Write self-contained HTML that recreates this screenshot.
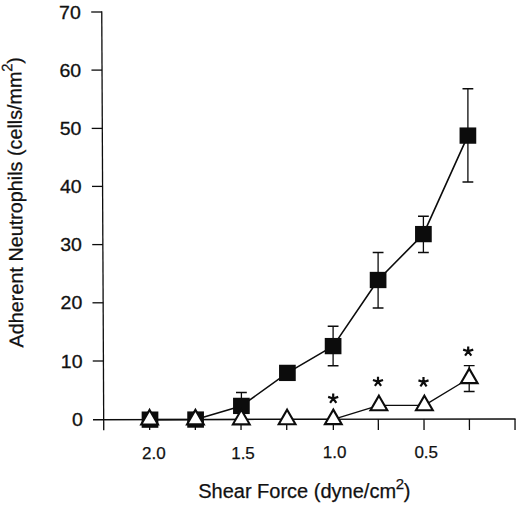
<!DOCTYPE html>
<html><head><meta charset="utf-8"><title>Adherent Neutrophils vs Shear Force</title>
<style>
html,body{margin:0;padding:0;background:#fff;}
body{width:520px;height:508px;overflow:hidden;}
svg{display:block;}
text{font-family:"Liberation Sans",sans-serif;fill:#111;}
</style></head><body>
<svg width="520" height="508" viewBox="0 0 520 508">
<rect width="520" height="508" fill="#fff"/>
<g stroke="#0c0c0c" stroke-width="1.3" fill="none" stroke-linecap="butt">
<line x1="101.75" y1="11.3" x2="103.75" y2="430.2"/>
<line x1="93" y1="419.75" x2="515.6" y2="419.00"/>
<line x1="91.20" y1="12.00" x2="101.75" y2="12.00"/>
<line x1="91.46" y1="70.10" x2="102.03" y2="70.10"/>
<line x1="91.71" y1="128.40" x2="102.31" y2="128.40"/>
<line x1="91.97" y1="186.40" x2="102.58" y2="186.40"/>
<line x1="92.23" y1="244.60" x2="102.86" y2="244.60"/>
<line x1="92.48" y1="302.80" x2="103.14" y2="302.80"/>
<line x1="92.74" y1="361.00" x2="103.42" y2="361.00"/>
<line x1="149.60" y1="419.65" x2="149.65" y2="430.0"/>
<line x1="195.30" y1="419.57" x2="195.35" y2="430.0"/>
<line x1="241.00" y1="419.49" x2="241.05" y2="430.0"/>
<line x1="286.70" y1="419.41" x2="286.75" y2="430.0"/>
<line x1="333.30" y1="419.32" x2="333.35" y2="430.0"/>
<line x1="378.30" y1="419.24" x2="378.35" y2="430.0"/>
<line x1="424.00" y1="419.16" x2="424.05" y2="430.0"/>
<line x1="469.40" y1="419.08" x2="469.45" y2="430.0"/>
<line x1="515.00" y1="419.00" x2="515.05" y2="430.0"/>
</g>
<g font-size="18.5" text-anchor="end" stroke="#111" stroke-width="0.3">
<text transform="translate(80.80,18.60) scale(1.055,1)">70</text>
<text transform="translate(81.08,76.70) scale(1.055,1)">60</text>
<text transform="translate(81.37,135.00) scale(1.055,1)">50</text>
<text transform="translate(81.65,193.00) scale(1.055,1)">40</text>
<text transform="translate(81.94,251.20) scale(1.055,1)">30</text>
<text transform="translate(82.23,309.40) scale(1.055,1)">20</text>
<text transform="translate(82.51,367.60) scale(1.055,1)">10</text>
<text transform="translate(82.80,426.20) scale(1.055,1)">0</text>
</g>
<g font-size="17" text-anchor="middle" stroke="#111" stroke-width="0.25">
<text x="153.80" y="459.00">2.0</text>
<text x="243.00" y="458.60">1.5</text>
<text x="334.60" y="458.30">1.0</text>
<text x="426.20" y="457.90">0.5</text>
</g>
<text id="xt" x="198.2" y="498.3" font-size="20" stroke="#111" stroke-width="0.25">Shear Force (dyne/cm<tspan font-size="15" dy="-9" dx="-0.3">2</tspan><tspan dy="9" dx="-0.3">)</tspan></text>
<text id="yt" transform="translate(23.3,347.4) rotate(-90.42)" font-size="19.8" stroke="#111" stroke-width="0.25">Adherent Neutrophils (cells/mm<tspan font-size="15" dy="-9" dx="-0.3">2</tspan><tspan dy="9" dx="-0.3">)</tspan></text>
<polyline points="150.00,419.65 195.60,419.57 241.40,405.90 287.40,372.90 333.10,346.10 378.10,280.00 423.40,234.10 467.90,135.60" fill="none" stroke="#0c0c0c" stroke-width="1.6" stroke-linejoin="round"/>
<polyline points="149.60,419.65 195.40,419.57 241.30,419.49 287.10,419.41 333.30,419.32 378.90,405.40 424.40,405.40 469.20,378.30" fill="none" stroke="#0c0c0c" stroke-width="1.3" stroke-linejoin="round"/>
<g stroke="#0c0c0c" stroke-width="1.3" fill="none">
<path d="M241.40 392.50V419.30M236.00 392.50H246.80M236.00 419.30H246.80"/>
<path d="M333.10 326.25V365.75M327.70 326.25H338.50M327.70 365.75H338.50"/>
<path d="M378.10 252.50V308.00M372.70 252.50H383.50M372.70 308.00H383.50"/>
<path d="M423.40 216.25V252.50M418.00 216.25H428.80M418.00 252.50H428.80"/>
<path d="M467.90 88.75V182.00M462.50 88.75H473.30M462.50 182.00H473.30"/>
<path d="M469.20 365.70V391.50M463.80 365.70H474.60M463.80 391.50H474.60"/>
</g>
<g fill="#0c0c0c">
<rect x="141.65" y="411.50" width="16.7" height="16.3"/>
<rect x="187.25" y="411.42" width="16.7" height="16.3"/>
<rect x="233.05" y="397.75" width="16.7" height="16.3"/>
<rect x="279.05" y="364.75" width="16.7" height="16.3"/>
<rect x="324.75" y="337.95" width="16.7" height="16.3"/>
<rect x="369.75" y="271.85" width="16.7" height="16.3"/>
<rect x="415.05" y="225.95" width="16.7" height="16.3"/>
<rect x="459.55" y="127.45" width="16.7" height="16.3"/>
</g>
<g fill="#fff" stroke="#0c0c0c" stroke-width="2.1" stroke-linejoin="miter" stroke-miterlimit="10">
<path d="M149.60 409.95L158.00 424.50H141.20Z"/>
<path d="M195.40 409.87L203.80 424.42H187.00Z"/>
<path d="M241.30 409.79L249.70 424.34H232.90Z"/>
<path d="M287.10 409.71L295.50 424.26H278.70Z"/>
<path d="M333.30 409.62L341.70 424.17H324.90Z"/>
<path d="M378.90 395.70L387.30 410.25H370.50Z"/>
<path d="M424.40 395.70L432.80 410.25H416.00Z"/>
<path d="M469.20 368.60L477.60 383.15H460.80Z"/>
</g>
<g stroke="#0c0c0c" stroke-width="2.2" stroke-linecap="butt" fill="none">
<path d="M333.20 398.50L333.20 393.60M333.20 398.50L338.24 396.86M333.20 398.50L328.16 396.86M333.20 398.50L336.32 402.79M333.20 398.50L330.08 402.79"/>
<path d="M378.00 381.60L378.00 376.70M378.00 381.60L383.04 379.96M378.00 381.60L372.96 379.96M378.00 381.60L381.12 385.89M378.00 381.60L374.88 385.89"/>
<path d="M423.50 382.00L423.50 377.10M423.50 382.00L428.54 380.36M423.50 382.00L418.46 380.36M423.50 382.00L426.62 386.29M423.50 382.00L420.38 386.29"/>
<path d="M468.20 351.30L468.20 346.40M468.20 351.30L473.24 349.66M468.20 351.30L463.16 349.66M468.20 351.30L471.32 355.59M468.20 351.30L465.08 355.59"/>
</g>
</svg>
</body></html>
